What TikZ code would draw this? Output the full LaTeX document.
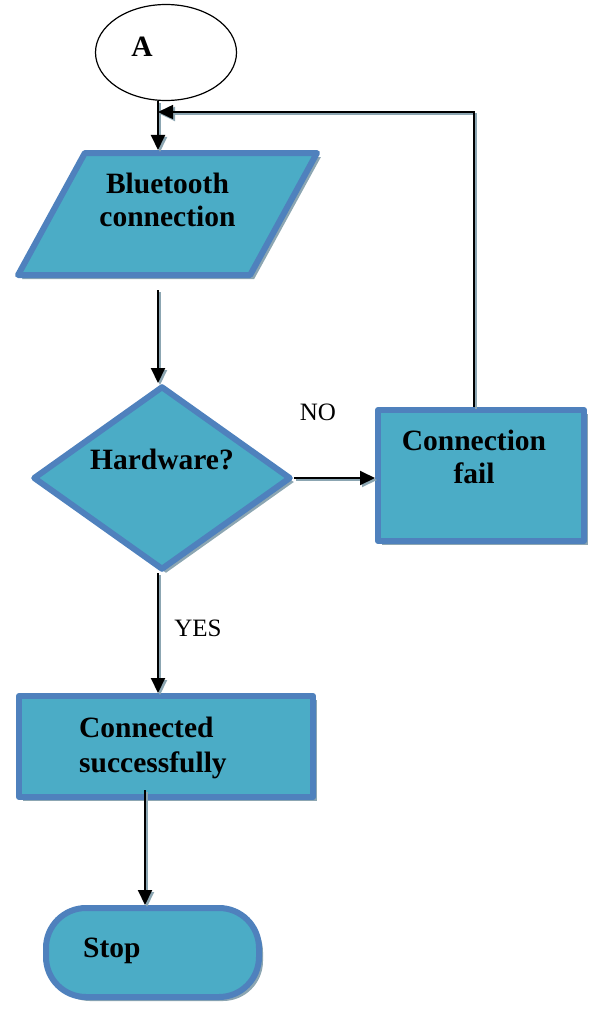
\documentclass[tikz,border=0pt]{standalone}
\usepackage{fontspec}
\setmainfont{Liberation Serif}
\usetikzlibrary{shapes.geometric,shadows,arrows.meta}
\definecolor{boxfill}{RGB}{75,172,198}
\definecolor{boxline}{RGB}{79,129,189}
\definecolor{shadowc}{RGB}{140,166,178}
\tikzset{
  flowbox/.style={draw=boxline, fill=boxfill, line width=6pt, line join=round, inner sep=0pt,
    drop shadow={shadow xshift=4pt, shadow yshift=-4pt, fill=shadowc, opacity=1}},
  btext/.style={font=\fontsize{29.5}{33}\selectfont\bfseries, align=center, inner sep=0pt},
  ltext/.style={font=\fontsize{25}{30}\selectfont, inner sep=0pt},
  conn/.style={line width=2pt, -{Triangle[length=15pt,width=14pt]},
    preaction={draw=shadowc, line width=2pt, transform canvas={shift={(2pt,-2pt)}}}},
}
\begin{document}
\begin{tikzpicture}[x=1pt,y=-1pt]
\useasboundingbox (0,0) rectangle (597,1009);

% shapes
\node[ellipse, draw, line width=1.2pt, minimum width=141pt, minimum height=96pt, inner sep=0pt] (ell) at (166,52.5) {};
\node[flowbox, trapezium, inner sep=2pt, trapezium left angle=68, trapezium right angle=112,
      trapezium stretches=true, minimum width=299pt, minimum height=122pt] (par) at (167.5,214) {};
\node[flowbox, diamond, minimum width=258pt, minimum height=184pt] (dia) at (162,478) {};
\node[flowbox, rectangle, minimum width=206pt, minimum height=131pt] (cf) at (481,475.5) {};
\node[flowbox, rectangle, minimum width=294pt, minimum height=101pt] (con) at (166,746.5) {};
\node[flowbox, rectangle, rounded corners=40pt, minimum width=213pt, minimum height=89pt] (stop) at (152.5,952.5) {};

% texts
\node[btext] (atxt) at (142,47) {A};
\node[btext] (t1) at (167.5,200) {Bluetooth\\connection};
\node[btext] (t2) at (162,459) {Hardware?};
\node[btext] (t3) at (474,457) {Connection\\fail};
\node[btext, font=\fontsize{29.5}{35}\selectfont\bfseries, align=left, anchor=west] (t4) at (79,748) {Connected\\successfully};
\node[btext, anchor=west] (t5) at (83,951) {Stop};
\node[ltext] (no) at (318,412) {NO};
\node[ltext] (yes) at (198,628) {YES};

% helper coordinates
\coordinate (xa) at (158,0);
\coordinate (xb) at (474,0);
\coordinate (xc) at (145,0);
\coordinate (fb) at (158,112);
\coordinate (p1) at (158,290);
\coordinate (p2) at (145,790);

% connectors
\draw[conn] (ell.south -| xa) -- (par.north -| xa);
\draw[conn, line width=1.5pt] (cf.north -| xb) |- (fb);
\draw[conn] (p1) -- (dia.north -| xa);
\draw[conn] (dia.east) -- (dia.east -| cf.west);
\draw[conn] (dia.south -| xa) -- (con.north -| xa);
\draw[conn] (p2) -- (stop.north -| xc);
\end{tikzpicture}
\end{document}
